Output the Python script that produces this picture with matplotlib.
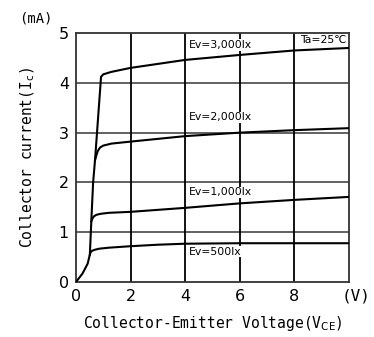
import matplotlib.pyplot as plt

# curve data (Vce in V, Ic in mA)
vce_500 = [0, 0.24, 0.43, 0.51, 0.54, 0.6, 0.7, 0.85, 1.2, 2, 3, 4, 6, 8, 10]
ic_500 = [0, 0.17, 0.37, 0.55, 0.6, 0.63, 0.65, 0.67, 0.69, 0.72, 0.75, 0.77, 0.78, 0.78, 0.78]

vce_1000 = [0.565, 0.6, 0.66, 0.75, 0.9, 1.2, 2, 4, 6, 8, 10]
ic_1000 = [1.22, 1.27, 1.32, 1.35, 1.37, 1.39, 1.41, 1.49, 1.58, 1.65, 1.71]

vce_2000 = [0.70, 0.74, 0.8, 0.88, 1.0, 1.3, 2, 4, 6, 8, 10]
ic_2000 = [2.45, 2.53, 2.63, 2.7, 2.74, 2.78, 2.82, 2.93, 3.0, 3.05, 3.09]

vce_3000 = [0.51, 0.57, 0.63, 0.70, 0.92, 1.0, 1.3, 2, 4, 6, 8, 10]
ic_3000 = [0.55, 1.3, 2.0, 2.45, 4.12, 4.17, 4.22, 4.3, 4.46, 4.56, 4.65, 4.7]

labels = ['Ev=3,000lx', 'Ev=2,000lx', 'Ev=1,000lx', 'Ev=500lx']
label_y = [4.76, 3.31, 1.8, 0.61]

fig = plt.figure(figsize=(3.74, 3.37), dpi=100)
ax = fig.add_axes([0.203, 0.163, 0.73, 0.739])

for v in [1, 2, 3, 4]:
    ax.axhline(v, color='#555555', lw=1.3, zorder=1)
for v in [2, 4, 6, 8]:
    ax.axvline(v, color='black', lw=1.3, zorder=1)

for x, y in [(vce_500, ic_500), (vce_1000, ic_1000), (vce_2000, ic_2000), (vce_3000, ic_3000)]:
    ax.plot(x, y, color='black', lw=1.5, zorder=3, solid_joinstyle='round')

for t, y in zip(labels, label_y):
    ax.text(4.15, y, t, fontsize=7.8, va='center', ha='left', zorder=4,
            bbox=dict(facecolor='white', edgecolor='none', pad=0.5))
ax.text(8.2, 4.85, 'Ta=25℃', fontsize=7.8, va='center', ha='left', zorder=4)

ax.set_xlim(0, 10)
ax.set_ylim(0, 5)
ax.set_xticks([0, 2, 4, 6, 8])
ax.set_yticks([0, 1, 2, 3, 4, 5])
ax.tick_params(length=0, labelsize=11.5, pad=5)
for s in ax.spines.values():
    s.set_linewidth(1.3)
    s.set_color('#333333')

ax.text(1.026, -0.025, '(V)', transform=ax.transAxes, fontsize=11.5,
        va='top', ha='center', family='DejaVu Sans Mono')
ax.text(-0.147, 1.06, '(mA)', transform=ax.transAxes, fontsize=10,
        va='center', ha='center', family='DejaVu Sans Mono')
ax.set_xlabel('Collector-Emitter Voltage(V$_{\\rm CE}$)', family='DejaVu Sans Mono',
              fontsize=10.5, labelpad=7)
ax.set_ylabel('Collector current(I$_{\\rm c}$)', family='DejaVu Sans Mono',
              fontsize=10.5, labelpad=16)

fig.savefig('out.png', dpi=100)
